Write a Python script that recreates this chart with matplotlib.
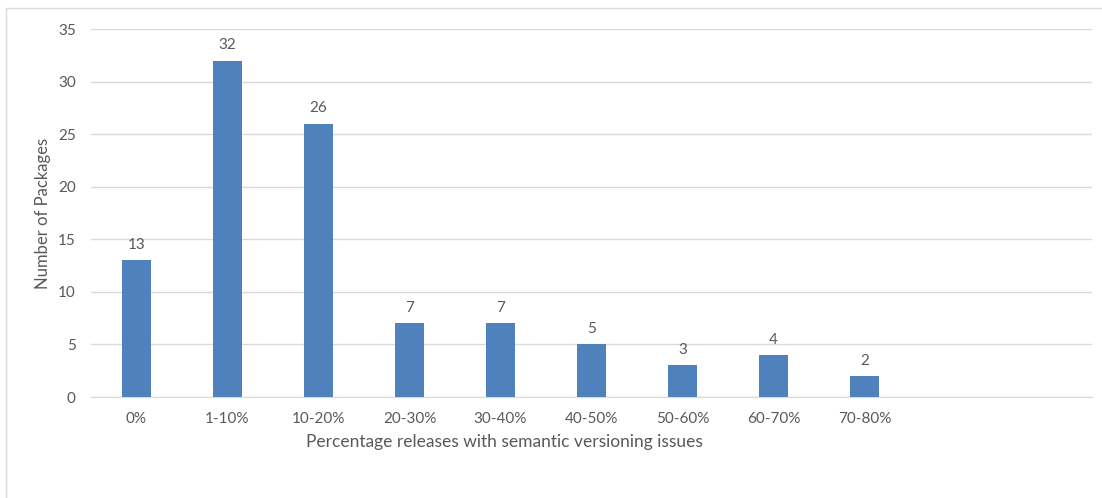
import matplotlib.pyplot as plt
from matplotlib.patches import Rectangle

categories = ["0%", "1-10%", "10-20%", "20-30%", "30-40%", "40-50%",
              "50-60%", "60-70%", "70-80%", "", ""]
packages = [13, 32, 26, 7, 7, 5, 3, 4, 2, None, None]

plt.rcParams['font.family'] = ['Lato', 'DejaVu Sans']
textColor = "#595959"

fig = plt.figure(figsize=(11.02, 4.98), dpi=100)
fig.patches.append(Rectangle((6 / 1102, -0.01), 1.0, 1 - 8 / 498 + 0.01,
                             transform=fig.transFigure, fill=False,
                             edgecolor="#D9D9D9", linewidth=1))
axis = fig.add_axes([91 / 1102, 1 - 397 / 498, 1001 / 1102, 368 / 498])

xs = list(range(len(categories)))
values = [v if v is not None else 0 for v in packages]
bars = axis.bar(xs, values, width=0.31, color="#4F81BD", zorder=3)

for x, v in zip(xs, packages):
    if v is None:
        continue
    axis.annotate(str(v), (x, v), xytext=(0, 6), textcoords="offset points",
                  ha="center", va="bottom", fontsize=11, color=textColor)

axis.set_xlim(-0.5, len(categories) - 0.5)
axis.set_ylim(0, 35)
axis.set_yticks(range(0, 36, 5))
axis.set_xticks(xs)
axis.set_xticklabels(categories)
axis.grid(axis="y", color="#D9D9D9", linewidth=1, zorder=0)
for side in ["top", "right", "left"]:
    axis.spines[side].set_visible(False)
axis.spines["bottom"].set_color("#D9D9D9")
axis.tick_params(axis="both", length=0, labelsize=11, colors=textColor)
axis.tick_params(axis="x", pad=11)
axis.tick_params(axis="y", pad=11)

# x title sits left of the plot centre, as in the original
fig.text(504 / 1102, 1 - 442 / 498,
         "Percentage releases with semantic versioning issues",
         fontsize=12.5, color=textColor, ha="center", va="center")
fig.text(43 / 1102, 1 - 213 / 498, "Number of Packages", rotation=90,
         fontsize=12, color=textColor, ha="center", va="center")

fig.savefig("out.png", dpi=100)
